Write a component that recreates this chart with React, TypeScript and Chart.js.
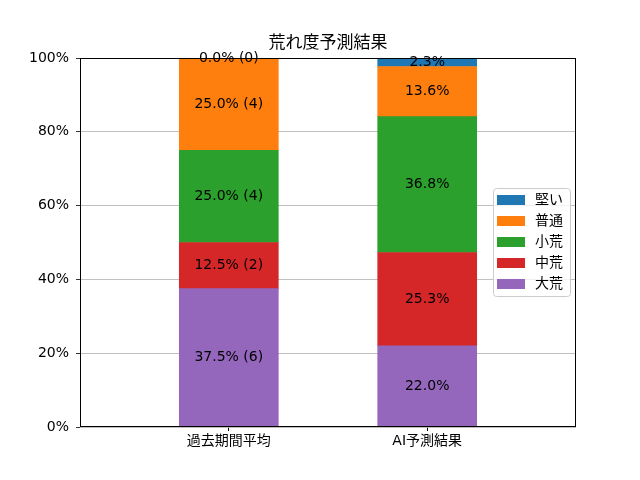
import React, { useEffect, useRef } from 'react';
import Chart from 'chart.js/auto';

const categories = ['過去期間平均', 'AI予測結果'];
const levels = ['大荒', '中荒', '小荒', '普通', '堅い'];
const levelColors = ['#9467bd', '#d62728', '#2ca02c', '#ff7f0e', '#1f77b4'];
const pastValues = [37.5, 12.5, 25.0, 25.0, 0.0];
const pastCounts = [6, 2, 4, 4, 0];
const aiValues = [22.0, 25.3, 36.8, 13.6, 2.3];
const yTicks = [0, 20, 40, 60, 80, 100];

const FONT = '"DejaVu Sans", "Noto Sans CJK JP", sans-serif';
const TITLE = '荒れ度予測結果';

const decorPlugin = {
  id: 'decor',
  afterDatasetsDraw(chart) {
    const { ctx, chartArea } = chart;
    const { left, right, top, bottom } = chartArea;
    ctx.save();

    // frame
    ctx.strokeStyle = '#000';
    ctx.lineWidth = 1;
    ctx.strokeRect(left + 0.5, top + 0.5, right - left - 1, bottom - top - 1);

    // bar labels
    ctx.fillStyle = '#000';
    ctx.font = `14px ${FONT}`;
    ctx.textAlign = 'center';
    ctx.textBaseline = 'middle';
    chart.data.datasets.forEach((ds, di) => {
      const meta = chart.getDatasetMeta(di);
      meta.data.forEach((bar, j) => {
        const v = j === 0 ? pastValues[di] : aiValues[di];
        const txt = j === 0 ? `${v.toFixed(1)}% (${pastCounts[di]})` : `${v.toFixed(1)}%`;
        ctx.fillText(txt, bar.x, (bar.y + bar.base) / 2);
      });
    });

    // title
    ctx.font = `17px ${FONT}`;
    ctx.fillText(TITLE, (left + right) / 2, 44);

    // legend
    const bx = 493, by = 188, bw = 77, bh = 108;
    ctx.fillStyle = 'rgba(255,255,255,0.8)';
    ctx.strokeStyle = '#cccccc';
    ctx.beginPath();
    ctx.roundRect(bx + 0.5, by + 0.5, bw, bh, 3);
    ctx.fill();
    ctx.stroke();
    ctx.font = `14px ${FONT}`;
    ctx.textAlign = 'left';
    const n = chart.data.datasets.length;
    for (let k = 0; k < n; k++) {
      const ds = chart.data.datasets[n - 1 - k];
      const cy = by + 12 + k * 21;
      ctx.fillStyle = ds.backgroundColor;
      ctx.fillRect(bx + 4, cy - 5, 28, 10);
      ctx.fillStyle = '#000';
      ctx.fillText(ds.label, bx + 42, cy);
    }
    ctx.restore();
  },
};

export default function App() {
  const canvasRef = useRef(null);

  useEffect(() => {
    document.body.style.margin = '0';
    const chart = new Chart(canvasRef.current, {
      type: 'bar',
      data: {
        datasets: levels.map((lv, i) => ({
          label: lv,
          data: [
            { x: 0, y: pastValues[i] },
            { x: 1, y: aiValues[i] },
          ],
          backgroundColor: levelColors[i],
          borderWidth: 0,
          grouped: false,
          barThickness: 99,
        })),
      },
      options: {
        responsive: false,
        animation: false,
        layout: { padding: { top: 58, right: 64, left: 0, bottom: 0 } },
        plugins: {
          legend: { display: false },
          title: { display: false },
          tooltip: { enabled: false },
        },
        scales: {
          x: {
            type: 'linear',
            offset: false,
            min: -0.75,
            max: 1.75,
            afterBuildTicks: (scale) => {
              scale.ticks = categories.map((_, i) => ({ value: i }));
            },
            afterFit: (scale) => {
              scale.height = 53;
            },
            ticks: {
              callback: (v) => categories[v] ?? '',
              color: '#000',
              font: { family: FONT, size: 14 },
              padding: 2,
              maxRotation: 0,
              autoSkip: false,
            },
            grid: {
              offset: false,
              drawOnChartArea: false,
              drawTicks: true,
              tickLength: 4,
              tickColor: '#000',
            },
            border: { display: false },
          },
          y: {
            stacked: true,
            min: 0,
            max: 100,
            afterBuildTicks: (scale) => {
              scale.ticks = yTicks.map((v) => ({ value: v }));
            },
            afterFit: (scale) => {
              scale.width = 80;
            },
            ticks: {
              callback: (v) => `${v}%`,
              color: '#000',
              font: { family: FONT, size: 14 },
              padding: 7,
            },
            grid: { color: '#b0b0b0', lineWidth: 0.8, tickLength: 4, tickColor: '#000' },
            border: { display: false },
          },
        },
      },
      plugins: [decorPlugin],
    });
    return () => chart.destroy();
  }, []);

  return (
    <div style={{ width: 640, height: 480 }}>
      <canvas ref={canvasRef} width={640} height={480} />
    </div>
  );
}
